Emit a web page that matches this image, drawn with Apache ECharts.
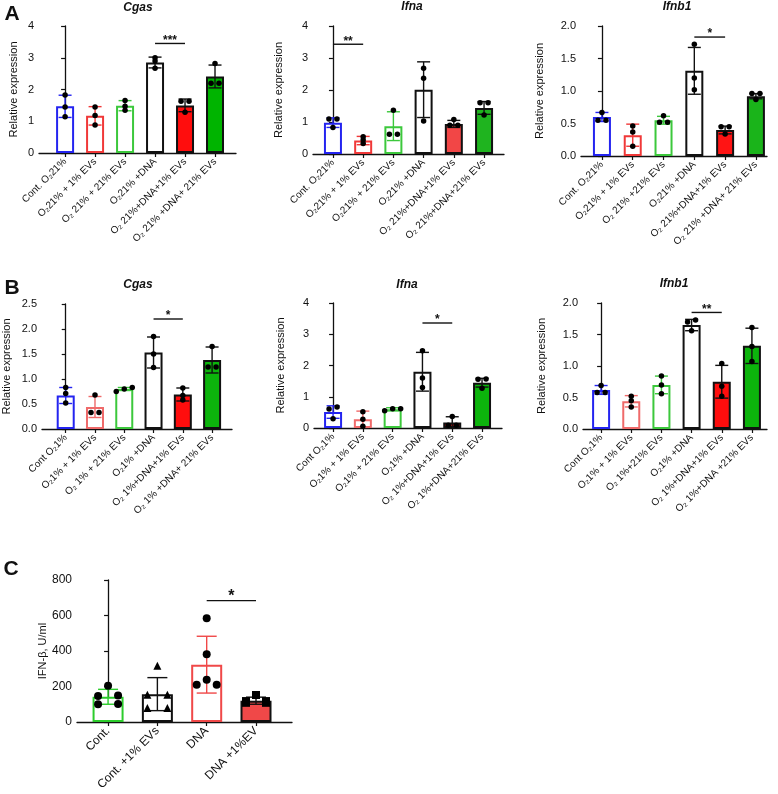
<!DOCTYPE html>
<html>
<head>
<meta charset="utf-8">
<style>
html,body{margin:0;padding:0;background:#fff;}
#chart{width:778px;height:794px;}
</style>
<script src="https://cdn.jsdelivr.net/npm/echarts@6/dist/echarts.min.js"></script>
</head>
<body>
<div id="chart"></div>
<script>
// ---- tick labels ----
var labelsACgas = ['Cont. O₂21%', 'O₂21% + 1% EVs', 'O₂ 21% + 21% EVs', 'O₂21% +DNA', 'O₂ 21%+DNA+1% EVs', 'O₂ 21% +DNA+ 21% EVs'];
var labelsAIfna = ['Cont. O₂21%', 'O₂21% + 1% EVs', 'O₂21% + 21% EVs', 'O₂21% +DNA', 'O₂ 21%+DNA+1% EVs', 'O₂ 21%+DNA+21% EVs'];
var labelsAIfnb1 = ['Cont. O₂21%', 'O₂21% + 1% EVs', 'O₂ 21% +21% EVs', 'O₂21% +DNA', 'O₂ 21%+DNA+1% EVs', 'O₂ 21% +DNA+ 21% EVs'];
var labelsBCgas = ['Cont O₂1%', 'O₂1% + 1% EVs', 'O₂ 1% + 21% EVs', 'O₂1% +DNA', 'O₂ 1%+DNA+1% EVs', 'O₂ 1% +DNA+ 21% EVs'];
var labelsBIfna = ['Cont O₂1%', 'O₂1% + 1% EVs', 'O₂1% + 21% EVs', 'O₂1% +DNA', 'O₂ 1%+DNA+1% EVs', 'O₂ 1%+DNA+21% EVs'];
var labelsBIfnb1 = ['Cont O₂1%', 'O₂1% + 1% EVs', 'O₂ 1%+21% EVs', 'O₂1% +DNA', 'O₂ 1%+DNA+1% EVs', 'O₂ 1%+DNA +21% EVs'];
var labelsC = ['Cont.', 'Cont. +1% EVs', 'DNA', 'DNA +1%EV'];

// ---- A: 21% O2 ----
var cgasA_mean = [1.47, 1.17, 1.49, 2.85, 1.50, 2.41];
var cgasA_sd = [0.35, 0.29, 0.16, 0.17, 0.20, 0.36];
var cgasA_pts = [[1.83, 1.45, 1.14], [1.45, 1.18, 0.88], [1.65, 1.47, 1.35], [3.00, 2.90, 2.67], [1.63, 1.63, 1.28], [2.82, 2.20, 2.20]];
var cgasA_sig = [3, 4, 3.45];

var ifnaA_mean = [0.98, 0.42, 0.87, 2.01, 0.94, 1.44];
var ifnaA_sd = [0.15, 0.13, 0.45, 0.87, 0.11, 0.20];
var ifnaA_pts = [[1.09, 1.09, 0.83], [0.54, 0.44, 0.33], [1.37, 0.62, 0.62], [2.68, 2.37, 1.03], [1.08, 0.90, 0.90], [1.60, 1.60, 1.22]];
var ifnaA_sig = [0, 1, 3.43];

var ifnb1A_mean = [0.60, 0.32, 0.55, 1.31, 0.40, 0.92];
var ifnb1A_sd = [0.07, 0.17, 0.06, 0.36, 0.06, 0.04];
var ifnb1A_pts = [[0.67, 0.55, 0.55], [0.46, 0.37, 0.15], [0.62, 0.52, 0.52], [1.72, 1.20, 1.02], [0.45, 0.45, 0.34], [0.96, 0.96, 0.87]];
var ifnb1A_sig = [3, 4, 1.83];

// ---- B: 1% O2 ----
var cgasB_mean = [0.67, 0.44, 0.80, 1.53, 0.69, 1.38];
var cgasB_sd = [0.16, 0.21, 0.03, 0.31, 0.13, 0.26];
var cgasB_pts = [[0.83, 0.71, 0.52], [0.68, 0.33, 0.33], [0.75, 0.83, 0.80], [1.85, 1.50, 1.23], [0.82, 0.67, 0.58], [1.65, 1.24, 1.24]];
var cgasB_sig = [3, 4, 2.2];

var ifnaB_mean = [0.51, 0.28, 0.60, 1.80, 0.18, 1.45];
var ifnaB_sd = [0.20, 0.26, 0.05, 0.62, 0.18, 0.14];
var ifnaB_pts = [[0.67, 0.61, 0.30], [0.52, 0.28, 0.06], [0.55, 0.62, 0.62], [2.47, 1.60, 1.30], [0.37, 0.09, 0.09], [1.57, 1.56, 1.27]];
var ifnaB_sig = [3, 4, 3.36];

var ifnb1B_mean = [0.62, 0.44, 0.70, 1.65, 0.75, 1.32];
var ifnb1B_sd = [0.07, 0.09, 0.14, 0.09, 0.26, 0.28];
var ifnb1B_pts = [[0.69, 0.58, 0.58], [0.52, 0.45, 0.35], [0.84, 0.70, 0.56], [1.73, 1.70, 1.56], [1.04, 0.68, 0.52], [1.61, 1.31, 1.07]];
var ifnb1B_sig = [3, 4, 1.85];

// ---- C: IFN-beta ELISA ----
var ifnbC_mean = [142, 157, 323, 120];
var ifnbC_sd = [42, 93, 160, 20];
var ifnbC_pts = [[204, 150, 147, 102, 100], [317, 154, 154, 79, 79], [584, 382, 238, 210, 210], [152, 118, 118, 108, 108]];
var ifnbC_sig = [2, 3, 684];

var FONT = '"Liberation Sans", "DejaVu Sans", Arial, sans-serif';
var INK = '#111';

// bar colours (fill / outline+error)
var fillA1 = ['#fff', '#fff', '#fff', '#fff', '#ff0d0d', '#00b400'];
var fillA2 = ['#fff', '#fff', '#fff', '#fff', '#f24646', '#1fb41f'];
var fillA3 = ['#fff', '#fff', '#fff', '#fff', '#ff1414', '#1ab41a'];
var edgeA = ['#2424f0', '#f03838', '#3cc83c', INK, INK, INK];
var fillB = ['#fff', '#fff', '#fff', '#fff', '#ff0d0d', '#0cb40c'];
var fillB2 = ['#fff', '#fff', '#fff', '#fff', '#d81515', '#0cb40c'];
var edgeB = ['#2424f0', '#ef6a6a', '#3cc83c', INK, INK, INK];
var fillC = ['#fff', '#fff', '#fff', '#f04848'];
var edgeC = ['#2ccc2c', INK, '#f04848', INK];

var panels = [
  {grid: {left: 39, top: 26, width: 197, height: 127}, xr: [-0.87, 5.7], ymax: 4, step: 1, dec: 0, gap: 20,
   name: 'Relative expression', labels: labelsACgas, mean: cgasA_mean, sd: cgasA_sd, pts: cgasA_pts, sig: cgasA_sig, stars: '***',
   fill: fillA1, edge: edgeA},
  {grid: {left: 313, top: 26, width: 191, height: 128}, xr: [-0.66, 5.66], ymax: 4, step: 1, dec: 0, gap: 29,
   name: 'Relative expression', labels: labelsAIfna, mean: ifnaA_mean, sd: ifnaA_sd, pts: ifnaA_pts, sig: ifnaA_sig, stars: '**',
   fill: fillA2, edge: edgeA},
  {grid: {left: 581, top: 26, width: 186, height: 130}, xr: [-0.68, 5.36], ymax: 2, step: 0.5, dec: 1, gap: 36,
   name: 'Relative expression', labels: labelsAIfnb1, mean: ifnb1A_mean, sd: ifnb1A_sd, pts: ifnb1A_pts, sig: ifnb1A_sig, stars: '*',
   fill: fillA3, edge: edgeA},
  {grid: {left: 40, top: 304, width: 192, height: 125}, xr: [-0.81, 5.68], ymax: 2.5, step: 0.5, dec: 1, gap: 30,
   name: 'Relative expression', labels: labelsBCgas, mean: cgasB_mean, sd: cgasB_sd, pts: cgasB_pts, sig: cgasB_sig, stars: '*',
   fill: fillB, edge: edgeB},
  {grid: {left: 314, top: 303, width: 188, height: 125}, xr: [-0.64, 5.67], ymax: 4, step: 1, dec: 0, gap: 28,
   name: 'Relative expression', labels: labelsBIfna, mean: ifnaB_mean, sd: ifnaB_sd, pts: ifnaB_pts, sig: ifnaB_sig, stars: '*',
   fill: fillB2, edge: edgeB},
  {grid: {left: 583, top: 303, width: 184, height: 126}, xr: [-0.6, 5.5], ymax: 2, step: 0.5, dec: 1, gap: 36,
   name: 'Relative expression', labels: labelsBIfnb1, mean: ifnb1B_mean, sd: ifnb1B_sd, pts: ifnb1B_pts, sig: ifnb1B_sig, stars: '**',
   fill: fillB, edge: edgeB},
  {grid: {left: 77, top: 580, width: 215, height: 142}, xr: [-0.63, 3.73], ymax: 800, step: 200, dec: 0, gap: 28,
   name: 'IFN-β, U/ml', labels: labelsC, mean: ifnbC_mean, sd: ifnbC_sd, pts: ifnbC_pts, sig: ifnbC_sig, stars: '*',
   fill: fillC, edge: edgeC, big: true, symbols: ['circle', 'triangle', 'circle', 'rect']}
];

// spread overlapping dots sideways, like Prism's scatter
function jitter(vals, tol, spacing) {
  var order = vals.map(function (v, i) { return i; }).sort(function (a, b) { return vals[a] - vals[b]; });
  var off = new Array(vals.length).fill(0);
  var group = [order[0]];
  function flush() {
    var k = group.length;
    group.forEach(function (idx, j) { off[idx] = (j - (k - 1) / 2) * spacing; });
  }
  for (var i = 1; i < order.length; i++) {
    if (vals[order[i]] - vals[order[i - 1]] <= tol) group.push(order[i]);
    else { flush(); group = [order[i]]; }
  }
  flush();
  return off;
}

var grids = [], xAxes = [], yAxes = [], series = [];

panels.forEach(function (p, i) {
  var big = !!p.big;
  var idx = p.labels.map(function (l, k) { return k; });
  grids.push(p.grid);
  xAxes.push({
    gridIndex: i, type: 'value', min: p.xr[0], max: p.xr[1],
    splitLine: {show: false},
    axisLine: {onZero: false, lineStyle: {color: INK, width: 1.3}},
    axisTick: {customValues: idx, length: 4, lineStyle: {color: INK, width: 1.2}},
    axisLabel: {
      customValues: idx, rotate: 45, margin: 7,
      fontSize: big ? 12 : 10, color: INK, fontFamily: FONT,
      formatter: function (v) { return p.labels[Math.round(v)]; }
    }
  });
  yAxes.push({
    gridIndex: i, type: 'value', min: 0, max: p.ymax, interval: p.step,
    splitLine: {show: false},
    axisLine: {show: true, lineStyle: {color: INK, width: 1.3}},
    axisTick: {show: true, length: 4, lineStyle: {color: INK, width: 1.2}},
    axisLabel: {fontSize: big ? 12 : 11, color: INK, fontFamily: FONT, margin: 5,
      formatter: function (v) { return v.toFixed(p.dec); }},
    name: p.name, nameLocation: 'middle', nameRotate: 90, nameGap: p.gap,
    nameTextStyle: {fontSize: 11, color: INK, fontFamily: FONT}
  });

  // bars
  series.push({
    type: 'bar', xAxisIndex: i, yAxisIndex: i, barWidth: big ? 31 : 18, z: 2,
    data: p.mean.map(function (m, k) {
      return {value: [k, m], itemStyle: {color: p.fill[k], borderColor: p.edge[k], borderWidth: 2}};
    })
  });

  // SD error bars
  var cap = big ? 10 : 6.5;
  series.push({
    type: 'custom', xAxisIndex: i, yAxisIndex: i, z: 3,
    encode: {x: 0, y: [1, 2]},
    data: p.mean.map(function (m, k) { return [k, Math.max(0, m - p.sd[k]), m + p.sd[k]]; }),
    renderItem: function (params, api) {
      var col = p.edge[params.dataIndex];
      var lo = api.coord([api.value(0), api.value(1)]);
      var hi = api.coord([api.value(0), api.value(2)]);
      var st = {stroke: col, lineWidth: 1.4};
      return {type: 'group', children: [
        {type: 'line', shape: {x1: lo[0], y1: lo[1], x2: hi[0], y2: hi[1]}, style: st},
        {type: 'line', shape: {x1: hi[0] - cap, y1: hi[1], x2: hi[0] + cap, y2: hi[1]}, style: st},
        {type: 'line', shape: {x1: lo[0] - cap, y1: lo[1], x2: lo[0] + cap, y2: lo[1]}, style: st}
      ]};
    }
  });

  // individual replicates
  var dots = [];
  p.pts.forEach(function (vals, k) {
    var off = jitter(vals, p.ymax * (big ? 0.006 : 0.025), big ? 20 : 8);
    vals.forEach(function (v, j) {
      dots.push({value: [k, v], symbolOffset: [off[j], 0],
        symbol: p.symbols ? p.symbols[k] : 'circle'});
    });
  });
  series.push({
    type: 'scatter', xAxisIndex: i, yAxisIndex: i, z: 4,
    symbolSize: big ? 8 : 5.5,
    itemStyle: {color: '#000', opacity: 1},
    data: dots
  });

  // significance bracket
  series.push({
    type: 'custom', xAxisIndex: i, yAxisIndex: i, z: 5,
    encode: {x: [0, 1], y: 2},
    data: [p.sig],
    renderItem: function (params, api) {
      var a = api.coord([api.value(0), api.value(2)]);
      var b = api.coord([api.value(1), api.value(2)]);
      return {type: 'group', children: [
        {type: 'line', shape: {x1: a[0], y1: a[1], x2: b[0], y2: b[1]}, style: {stroke: INK, lineWidth: 1.4}},
        {type: 'text', x: (a[0] + b[0]) / 2, y: a[1] + (big ? 4 : 3),
          style: {text: p.stars, fill: INK, font: 'bold ' + (big ? 16 : 12) + 'px ' + FONT,
            align: 'center', verticalAlign: 'bottom', textAlign: 'center', textVerticalAlign: 'bottom'}}
      ]};
    }
  });
});

// panel letters and gene titles
var heads = [
  {t: 'A', x: 12, y: 14, f: 'bold 21px ' + FONT},
  {t: 'B', x: 12, y: 288, f: 'bold 21px ' + FONT},
  {t: 'C', x: 11, y: 569, f: 'bold 21px ' + FONT},
  {t: 'Cgas', x: 138, y: 8, f: 'italic bold 12px ' + FONT},
  {t: 'Ifna', x: 412, y: 7, f: 'italic bold 12px ' + FONT},
  {t: 'Ifnb1', x: 677, y: 7, f: 'italic bold 12px ' + FONT},
  {t: 'Cgas', x: 138, y: 285, f: 'italic bold 12px ' + FONT},
  {t: 'Ifna', x: 407, y: 285, f: 'italic bold 12px ' + FONT},
  {t: 'Ifnb1', x: 674, y: 284, f: 'italic bold 12px ' + FONT}
];

var chart = echarts.init(document.getElementById('chart'));
chart.setOption({
  animation: false,
  backgroundColor: '#fff',
  grid: grids,
  xAxis: xAxes,
  yAxis: yAxes,
  series: series,
  graphic: heads.map(function (h) {
    return {type: 'text', x: h.x, y: h.y, z: 10,
      style: {text: h.t, font: h.f, fill: INK, align: 'center', verticalAlign: 'middle',
        textAlign: 'center', textVerticalAlign: 'middle'}};
  })
});
</script>
</body>
</html>
